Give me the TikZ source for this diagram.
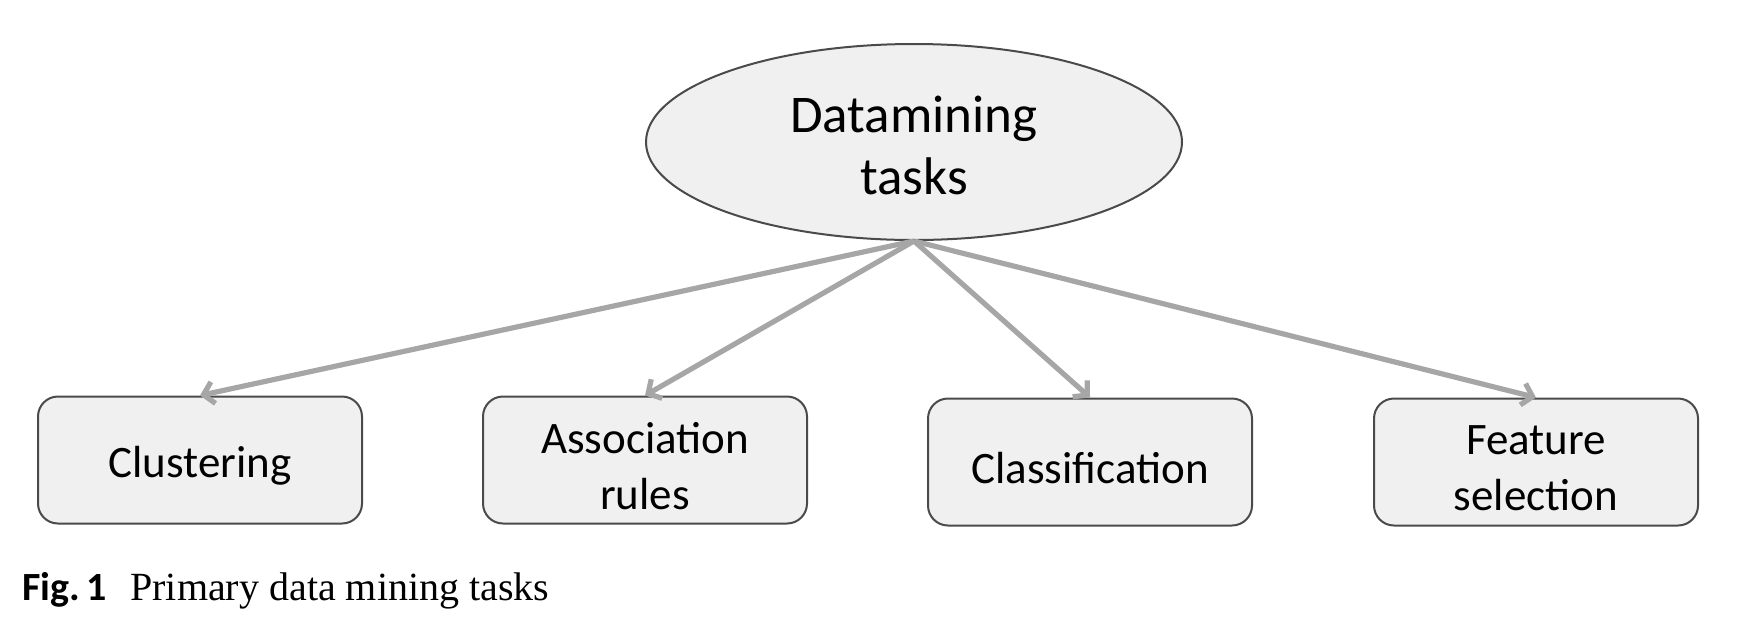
\documentclass[tikz,border=0pt]{standalone}
\usepackage{fontspec}
\setmainfont{Carlito}
\newfontfamily\capserif{Liberation Serif}
\usetikzlibrary{shapes.geometric,arrows.meta}
\definecolor{boxline}{HTML}{4A4A4A}
\definecolor{boxfill}{HTML}{F0F0F0}
\definecolor{arrowgray}{HTML}{A6A6A6}
\begin{document}
\begin{tikzpicture}[x=0.5pt,y=-0.5pt,
 task/.style={draw=boxline, fill=boxfill, line width=1pt, rounded corners=10pt,
   minimum width=162pt, minimum height=63.5pt, inner sep=0pt,
   label={[font=\fontsize{22.5}{28}\selectfont, align=center, yshift=-3pt, inner sep=0pt]center:#1}},
 root/.style={ellipse, draw=boxline, fill=boxfill, line width=1pt,
   minimum width=268pt, minimum height=98pt, inner sep=0pt,
   label={[font=\fontsize{26.5}{31}\selectfont, align=center, yshift=-1.5pt, inner sep=0pt]center:#1}},
 link/.style={draw=arrowgray, line width=2.6pt, -{Straight Barb[length=5pt,width=11pt]}}]
\useasboundingbox (0,0) rectangle (1744,628);
\node[root={Datamining\\tasks}] (root) at (914,142) {};
\node[task={Clustering}] (clu) at (200,460) {};
\node[task={Association\\rules}] (ass) at (645,460) {};
\node[task={Classification}] (cla) at (1090,462) {};
\node[task={Feature\\selection}] (fea) at (1536,462) {};
\draw[link] (root.south) -- (clu.north);
\draw[link] (root.south) -- (ass.north);
\draw[link] (root.south) -- (cla.north);
\draw[link] (root.south) -- (fea.north);
\node[anchor=base west, inner sep=0pt, font=\fontsize{20}{24}\selectfont\bfseries] (fig) at (22,600) {Fig.\,1};
\node[anchor=base west, inner sep=0pt, font=\capserif\fontsize{20}{24}\selectfont] (cap) at (130,600) {Primary data mining tasks};
\end{tikzpicture}
\end{document}
